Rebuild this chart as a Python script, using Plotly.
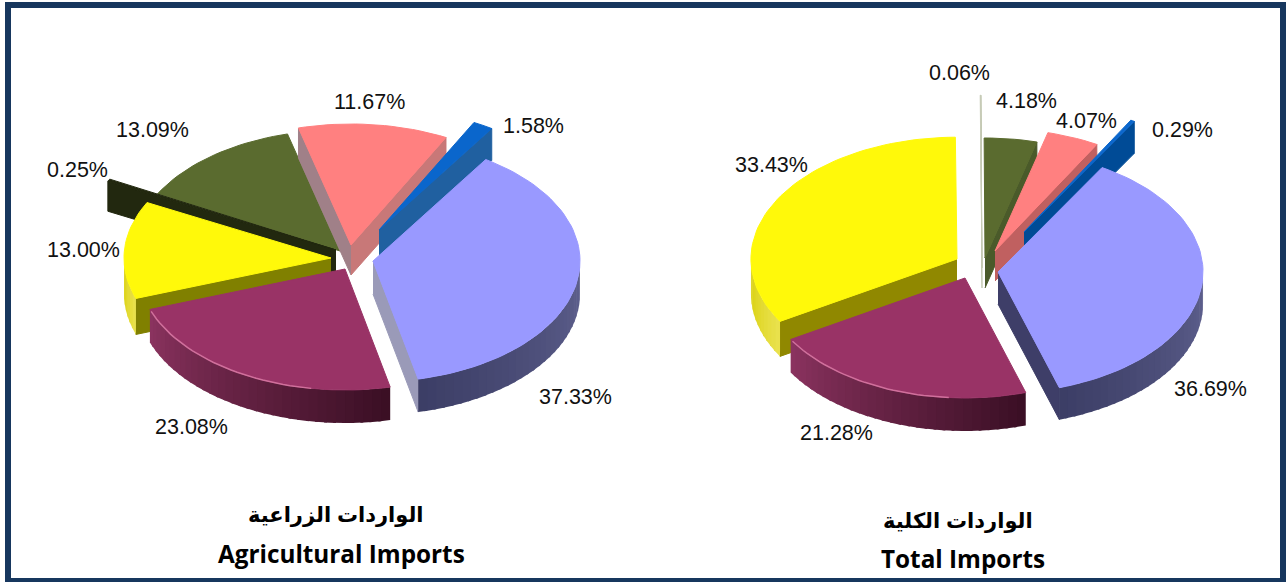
import math
import plotly.graph_objects as go

# ---- data ----
agri_names = ["Violet", "Maroon", "Yellow", "Black", "Green", "Pink", "Blue"]
agri_values = [37.33, 23.08, 13.00, 0.25, 13.09, 11.67, 1.58]
total_names = ["Violet", "Maroon", "Yellow", "White", "Green", "Pink", "Blue"]
total_values = [36.69, 21.28, 33.43, 0.06, 4.18, 4.07, 0.29]
agri_title = ["الواردات الزراعية", "Agricultural Imports"]
total_title = ["الواردات الكلية", "Total Imports"]

# ---- styles: name -> top colour, near/far wall shade, start wall, end wall ----
TOP = {"Violet": "#9999ff", "Maroon": "#993366", "Yellow": "#fff90a", "Black": "#22280f",
       "White": "#c8ccb8", "Green": "#5a6b2f", "Pink": "#ff8080", "Blue": "#0a66cc"}
RIM = {"Violet": ((0x60, 0x62, 0x90), (0x3c, 0x3e, 0x66)),
       "Maroon": ((0x3a, 0x0f, 0x24), (0x8c, 0x34, 0x60)),
       "Yellow": ((0xea, 0xe2, 0x50), (0xd8, 0xcf, 0x05)),
       "Black": ((0x22, 0x28, 0x0f), (0x22, 0x28, 0x0f)),
       "White": ((0xa8, 0xb0, 0x90), (0xa8, 0xb0, 0x90)),
       "Green": ((0x44, 0x50, 0x20), (0x44, 0x50, 0x20)),
       "Pink": ((0xc8, 0x78, 0x78), (0xc8, 0x78, 0x78)),
       "Blue": ((0x20, 0x60, 0xa0), (0x20, 0x60, 0xa0))}

# layout of each pie: angle start, radii, per-slice placement
AGRI = dict(start=33.0, rx=207, ry=121, title_x=341, title_y=(515, 553), order=[4, 5, 6, 3, 2, 1, 0],
            apex=[(373, 261), (345, 269), (331, 258), (336, 250), (340, 251), (351, 245), (379, 230)],
            depth=[33, 33, 36, 30, 20, 30, 32],
            scale=[1, 1, 1, 1.24, 1, 1, 1],
            wall_start=[None, None, "#808000", "#22280f", None, "#a08088", None],
            wall_end=["#9a9ab8", None, None, None, None, "#c87878", "#2060a0"],
            labels=[(575, 397), (191, 427), (83, 250), (77, 170), (152, 130), (369, 102), (533, 126)])
TOTAL = dict(start=30.5, rx=203, ry=120, title_x=963, title_y=(521, 558), order=[4, 5, 6, 3, 2, 1, 0],
             apex=[(998, 272), (965, 278), (957, 259), (982, 268), (985, 258), (995, 251), (1024, 232)],
             depth=[32, 33, 35, 20, 30, 30, 32],
             scale=[1.01, 1, 1.015, 1.44, 1, 1.02, 1.07],
             wall_start=[None, None, "#908800", None, None, None, None],
             wall_end=["#3e3e68", None, None, "#a8b090", "#4a5a2a", "#c06060", "#004b96"],
             labels=[(1210, 389), (836, 433), (771, 165), (959, 73), (1026, 101), (1086, 121), (1182, 130)])

fig = go.Figure()


def poly(xs, ys, color, edge=1):
    fig.add_trace(go.Scatter(x=xs, y=ys, mode="lines", fill="toself", fillcolor=color,
                             line=dict(color=color, width=edge), hoverinfo="skip", showlegend=False))


def arc(ax, ay, rx, ry, t0, t1, n):
    pts = [t0 + (t1 - t0) * i / n for i in range(n + 1)]
    return ([ax + rx * math.sin(math.radians(t)) for t in pts],
            [ay - ry * math.cos(math.radians(t)) for t in pts])


def draw_pie(names, values, cfg):
    total = sum(values)
    bounds, t = [], cfg["start"]
    for v in values:
        bounds.append((t, t + v / total * 360))
        t += v / total * 360
    for i in cfg["order"]:
        name = names[i]
        t0, t1 = bounds[i]
        ax, ay = cfg["apex"][i]
        d = cfg["depth"][i]
        rx, ry = cfg["rx"] * cfg["scale"][i], cfg["ry"] * cfg["scale"][i]
        for t_edge, col in ((t0, cfg["wall_start"][i]), (t1, cfg["wall_end"][i])):
            if col:
                ex, ey = arc(ax, ay, rx, ry, t_edge, t_edge, 1)
                poly([ax, ex[0], ex[0], ax], [ay, ey[0], ey[0] + d, ay + d], col)
        # outer wall, shaded in overlapping strips where it faces the viewer
        lo, hi = max(t0, 90), min(t1, 270)
        if hi > lo:
            n = max(1, int((hi - lo) / 2.5))
            c0, c1 = RIM[name]
            for k in range(n):
                a = lo + (hi - lo) * k / n
                b = min(hi, lo + (hi - lo) * (k + 1) / n + 0.8)
                x, y = arc(ax, ay, rx, ry, a, b, 2)
                f = (k + 0.5) / n
                col = "rgb(%d,%d,%d)" % tuple(c0[j] + (c1[j] - c0[j]) * f for j in range(3))
                poly(x + x[::-1], y + [v + d for v in y[::-1]], col, edge=0)
        # top face
        x, y = arc(ax, ay, rx, ry, t0, t1, max(2, int((t1 - t0) / 2)))
        poly([ax] + x + [ax], [ay] + y + [ay], TOP[name])
        if name == "Maroon":
            hx, hy = arc(ax, ay, rx, ry, t0 + 22, t1 - 1, 30)
            fig.add_trace(go.Scatter(x=hx, y=hy, mode="lines", line=dict(color="#d0709c", width=1.5),
                                     hoverinfo="skip", showlegend=False))
    for v, (lx, ly) in zip(values, cfg["labels"]):
        fig.add_annotation(x=lx, y=ly, text=f"{v:.2f}%", showarrow=False,
                           font=dict(family="Liberation Sans", size=21.5, color="#111111"))


def draw_title(title, cfg):
    fig.add_annotation(x=cfg["title_x"] - 5, y=cfg["title_y"][0], text=f"<b>{title[0]}</b>", showarrow=False,
                       font=dict(family="Liberation Sans, DejaVu Sans", size=21, color="#000000"))
    fig.add_annotation(x=cfg["title_x"], y=cfg["title_y"][1], text=f"<b>{title[1]}</b>", showarrow=False,
                       font=dict(family="Open Sans", size=24.3, color="#000000"))


draw_pie(agri_names, agri_values, AGRI)
draw_pie(total_names, total_values, TOTAL)
draw_title(agri_title, AGRI)
draw_title(total_title, TOTAL)

FRAME = "#17375e"
fig.add_shape(type="rect", xref="x", yref="y", x0=8, y0=5, x1=1283, y1=581,
              line=dict(color=FRAME, width=6), fillcolor="rgba(0,0,0,0)", layer="below")

fig.update_layout(width=1286, height=582, margin=dict(l=0, r=0, t=0, b=0),
                  paper_bgcolor="white", plot_bgcolor="white", showlegend=False,
                  xaxis=dict(range=[0, 1286], visible=False, fixedrange=True),
                  yaxis=dict(range=[582, 0], visible=False, fixedrange=True))

fig.write_html("out.html", config={"displayModeBar": False},
               post_script="document.body.style.margin='0';document.body.style.overflow='hidden';")
